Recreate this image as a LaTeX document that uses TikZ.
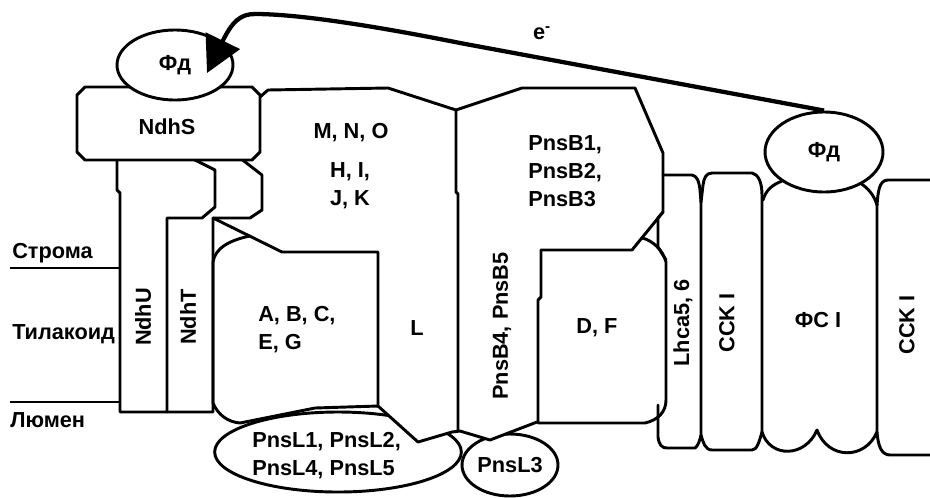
\documentclass[tikz,border=0pt]{standalone}
\usepackage{fontspec}
\setmainfont{Liberation Sans}
\usetikzlibrary{shapes.geometric,arrows.meta}
\newcommand\lblfont{\fontsize{16.3}{21}\selectfont\bfseries}
\begin{document}
\begin{tikzpicture}[x=0.75pt,y=-0.75pt,
 ol/.style={line width=2.2pt, line join=round, line cap=round},
 lbl/.style={font=\lblfont, inner sep=0pt, align=center},
 lbll/.style={font=\lblfont, inner sep=0pt, align=left},
 oval/.style={ellipse, draw, ol, fill=white, inner sep=0pt, font=\lblfont},
 memline/.style={line width=1.4pt}]
\useasboundingbox (0,0) rectangle (930,497);

% lumen ellipses (behind the complex)
\node[oval, minimum width=185pt, minimum height=60pt] (pnsl) at (338,452) {};
\node[oval, minimum width=72pt, minimum height=46.5pt] (pnsl3) at (510,465) {PnsL3};

% white cover of the complex bottom
\fill[white] (213,225) -- (213,403) .. controls (218,415) and (228,422) .. (240,423)
  -- (315,408) -- (378,406) -- (418,442) -- (452,432) -- (460,431) -- (480,437)
  -- (490,440) -- (537,422) -- (645,423) -- (666,403) -- (666,225) -- cycle;

% membrane lines
\draw[memline] (10,268) -- (120,268);
\draw[memline] (10,402) -- (120,402);

% complex outline
\draw[ol] (260,97) -- (268,90) -- (388,88) -- (456,110) -- (522,88) -- (635,88)
  -- (663,153) -- (663,212) -- (632,250) -- (541,250);
\draw[ol] (456,110) -- (456,192) -- (458,194) -- (458,431);
\draw[ol] (213,218) -- (282,252) -- (378,252) -- (378,406) -- (418,442) -- (452,432)
  -- (460,431) -- (480,437) -- (490,440) -- (537,422);
\draw[ol] (250,236) .. controls (230,240) and (215,248) .. (213,262) -- (213,403)
  .. controls (218,415) and (228,422) .. (240,423) -- (315,408) -- (378,406);
\draw[ol] (541,250) -- (541,297) -- (538,300) -- (538,423) -- (645,423)
  .. controls (658,420) and (666,412) .. (666,400) -- (666,262)
  .. controls (663,250) and (652,240) .. (642,238);
\draw[ol] (663,212) -- (658,218) -- (658,247) -- (666,260);

% NdhU / NdhT
\draw[ol] (117,160) -- (117,190) -- (120,193) -- (120,412) -- (167,412) -- (167,218)
  -- (202,218) -- (215,207) -- (215,170) -- (193,159);
\draw[ol] (167,412) -- (213,412) -- (213,218) -- (250,218) -- (262,210) -- (262,175) -- (240,158);

% NdhS box
\draw[ol, fill=white] (85,87) -- (252,87) -- (260,95) -- (260,152) -- (252,160)
  -- (85,160) -- (77,152) -- (77,95) -- cycle;

% Lhca column
\draw[ol] (658,405) -- (658,437) .. controls (659,445) and (662,448) .. (667,448)
  -- (695,448) .. controls (698,446) and (700,440) .. (701,435) -- (701,202);
\draw[ol] (663,175) -- (692,175) .. controls (697,176) and (699,181) .. (700,190) -- (701,202);
% CCK I (left)
\draw[ol] (701,202) -- (703,185) .. controls (704,178) and (706,173) .. (712,173)
  -- (752,173) .. controls (758,174) and (762,182) .. (762,195) -- (762,432);
\draw[ol] (701,435) .. controls (703,442) and (705,450) .. (712,450) -- (752,450)
  .. controls (757,450) and (759,442) .. (762,432);
% PS I bottom
\draw[ol] (762,432) .. controls (770,458) and (805,458) .. (817,430)
  .. controls (828,460) and (865,460) .. (877,432);
% CCK I (right)
\draw[ol] (877,205) -- (877,432) .. controls (878,445) and (881,455) .. (890,455) -- (931,455);
\draw[ol] (877,205) .. controls (878,192) and (879,180) .. (888,180) -- (931,180);

% ferredoxins
\node[oval, minimum width=87pt, minimum height=52.5pt] (fd1) at (175,65) {Фд};
\node[oval, minimum width=88.5pt, minimum height=60pt] (fd2) at (824,152) {Фд};
\draw[ol] (763,200) .. controls (766,190) and (772,185) .. (782,181);
\draw[ol] (860,183) .. controls (868,188) and (874,195) .. (877,205);

% electron path
\coordinate (etip) at (207,73);
\draw[line width=3.2pt, line join=round, -{Triangle[length=27pt,width=28pt]}]
  (fd2.north) -- (460,43) .. controls (380,27) and (300,14) .. (255,14)
  .. controls (240,14) and (232,22) .. (etip);
\node[lbl] (elbl) at (542,33) {e\textsuperscript{-}};

% labels
\node[lbl] (ndhs) at (167,127) {NdhS};
\node[lbl, rotate=90] (ndhu) at (143,317) {NdhU};
\node[lbl, rotate=90] (ndht) at (188,317) {NdhT};
\node[lbl] (mno) at (351,133) {M, N, O};
\node[lbl] (hijk) at (350,186) {H, I,\\J, K};
\node[lbl] (ltx) at (417,328) {L};
\node[lbll, anchor=west] (abc) at (258,330) {A, B, C,\\E, G};
\node[lbll, anchor=west] (pnsbt) at (528,171) {PnsB1,\\PnsB2,\\PnsB3};
\node[lbl, rotate=90] (pnsb45) at (502,326) {PnsB4, PnsB5};
\node[lbl] (df) at (597,328) {D, F};
\node[lbl, rotate=90] (lhca) at (683,323) {Lhca5, 6};
\node[lbl, rotate=90] (cck1) at (727,323) {CCK I};
\node[lbl] (fs1) at (818,320) {ФС I};
\node[lbl, rotate=90] (cck2) at (907,325) {CCK I};
\node[lbll, anchor=west] (pnsltxt) at (252,456) {PnsL1, PnsL2,\\PnsL4, PnsL5};
\node[lbll, anchor=west] (stroma) at (12,253) {Строма};
\node[lbll, anchor=west] (tilak) at (12,334) {Тилакоид};
\node[lbll, anchor=west] (lumen) at (10,420) {Люмен};
\end{tikzpicture}
\end{document}
